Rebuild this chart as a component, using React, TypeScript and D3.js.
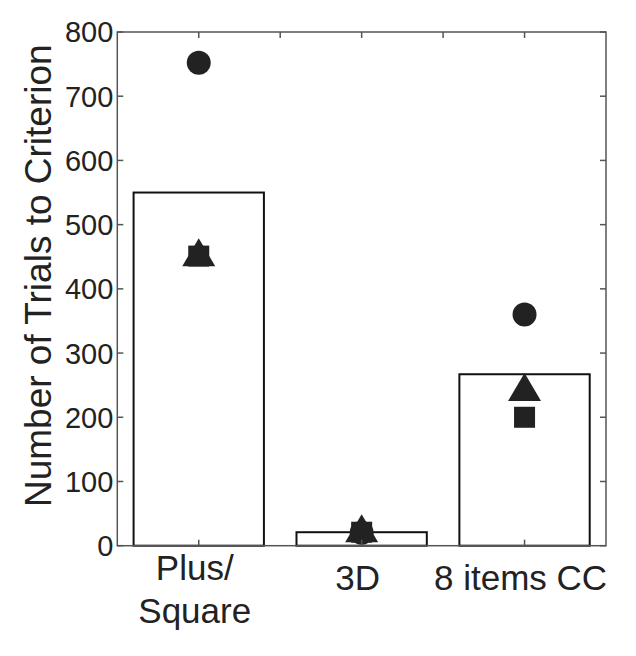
import React from "react";
import * as d3 from "d3";

const categories = ["Plus/\nSquare", "3D", "8 items CC"];
const barValues = [550, 21, 267];
const circleValues = [752, 20, 360];
const squareValues = [451, 21, 200];
const triangleValues = [457, 27, 247];
const yTicks = [0, 100, 200, 300, 400, 500, 600, 700, 800];
const topTicks = [1, 1.5, 2, 2.5, 3];

const W = 636;
const H = 656;
const left = 117.3;
const right = 606;
const top = 32;
const bottom = 545.7;

export default function App() {
  const y = d3.scaleLinear().domain([0, 800]).range([bottom, top]);
  const x = d3.scaleLinear().domain([0.5, 3.5]).range([left, right]);
  const idx = categories.map((_, i) => i + 1);
  const barW = x(1.4) - x(0.6);
  const axisColor = "#555";
  const textColor = "#222";
  const font = "'Liberation Sans', Arial, Helvetica, sans-serif";
  const tri = (cx: number, cy: number) => {
    const w = 33, h = 28;
    return `M${cx},${cy - h / 2}L${cx + w / 2},${cy + h / 2}L${cx - w / 2},${cy + h / 2}Z`;
  };
  const sq = 21;
  return (
    <svg width={W} height={H} style={{ position: "absolute", left: 0, top: 0, background: "#fff" }} fontFamily={font}>
      {/* bars */}
      {idx.map((c, i) => (
        <rect key={"b" + i} x={x(c) - barW / 2} y={y(barValues[i])} width={barW} height={y(0) - y(barValues[i])}
          fill="#fff" stroke="#111" strokeWidth={2} />
      ))}
      {/* markers */}
      {idx.map((c, i) => (
        <circle key={"c" + i} cx={x(c)} cy={y(circleValues[i])} r={12} fill="#222" />
      ))}
      {idx.map((c, i) => (
        <rect key={"s" + i} x={x(c) - sq / 2} y={y(squareValues[i]) - sq / 2} width={sq} height={sq} fill="#222" />
      ))}
      {idx.map((c, i) => (
        <path key={"t" + i} d={tri(x(c), y(triangleValues[i]))} fill="#222" />
      ))}
      {/* axes box */}
      <rect x={left} y={top} width={right - left} height={bottom - top} fill="none" stroke={axisColor} strokeWidth={1.5} />
      {/* y ticks */}
      {yTicks.map((t) => (
        <g key={"y" + t}>
          <line x1={left} x2={left + 6} y1={y(t)} y2={y(t)} stroke={axisColor} strokeWidth={1.5} />
          <line x1={right} x2={right - 6} y1={y(t)} y2={y(t)} stroke={axisColor} strokeWidth={1.5} />
          <text x={left - 4} y={y(t)} dy="0.36em" textAnchor="end" fontSize={29} fill={textColor}>{t}</text>
        </g>
      ))}
      {/* top ticks */}
      {topTicks.map((t) => (
        <line key={"tt" + t} x1={x(t)} x2={x(t)} y1={top} y2={top + 6} stroke={axisColor} strokeWidth={1.5} />
      ))}
      {/* bottom ticks and labels */}
      {idx.map((c, i) => {
        const lines = categories[i].split("\n");
        return (
          <g key={"x" + i}>
            <line x1={x(c)} x2={x(c)} y1={bottom} y2={bottom - 6} stroke={axisColor} strokeWidth={1.5} />
            {lines.map((l, j) => (
              <text key={j} x={x(c) - 4} y={(lines.length > 1 ? 579.5 : 590) + j * 43.8} textAnchor="middle" fontSize={35} fill={textColor}>{l}</text>
            ))}
          </g>
        );
      })}
      {/* y title */}
      <text transform={`translate(51,275.7) rotate(-90)`} textAnchor="middle" fontSize={37} fill={textColor}>
        Number of Trials to Criterion
      </text>
    </svg>
  );
}
